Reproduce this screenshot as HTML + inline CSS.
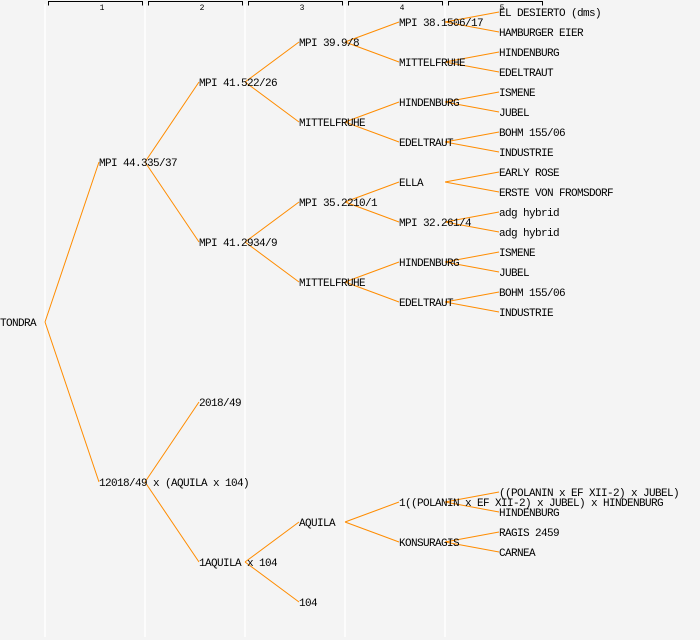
<!DOCTYPE html>
<html><head><style>body{margin:0;background:#f4f4f4}svg{display:block}text{font-family:"Liberation Mono",monospace;font-size:11px;letter-spacing:-0.6px;fill:#000}</style></head><body>
<svg width="700" height="640" xmlns="http://www.w3.org/2000/svg">
<rect width="700" height="640" fill="#f4f4f4"/>
<g stroke="#fff" stroke-width="1.5">
<line x1="45" y1="4" x2="45" y2="637"/><line x1="145" y1="4" x2="145" y2="637"/><line x1="245" y1="4" x2="245" y2="637"/><line x1="345" y1="4" x2="345" y2="637"/><line x1="445" y1="4" x2="445" y2="637"/>
</g>
<g stroke="#000" fill="none" stroke-width="1">
<path d="M48.5 5.5V1.5H142.5V5.5"/><path d="M148.5 5.5V1.5H242.5V5.5"/><path d="M248.5 5.5V1.5H342.5V5.5"/><path d="M348.5 5.5V1.5H442.5V5.5"/><path d="M448.5 5.5V1.5H542.5V5.5"/>
</g>
<g text-anchor="middle"><text x="102" y="10" style="font-size:8px;letter-spacing:0">1</text><text x="202" y="10" style="font-size:8px;letter-spacing:0">2</text><text x="302" y="10" style="font-size:8px;letter-spacing:0">3</text><text x="402" y="10" style="font-size:8px;letter-spacing:0">4</text><text x="502" y="10" style="font-size:8px;letter-spacing:0">5</text></g>
<g stroke="#ff8c00" stroke-width="1" fill="none">
<path d="M45 322L99 162M45 322L99 482"/>
<path d="M145 162L199 82M145 162L199 242M145 482L199 402M145 482L199 562"/>
<path d="M245 82L299 42M245 82L299 122M245 242L299 202M245 242L299 282M245 562L299 522M245 562L299 602"/>
<path d="M345 42L399 22M345 42L399 62M345 122L399 102M345 122L399 142M345 202L399 182M345 202L399 222M345 282L399 262M345 282L399 302M345 522L399 502M345 522L399 542"/>
<path d="M445 22L499 12M445 22L499 32M445 62L499 52M445 62L499 72M445 102L499 92M445 102L499 112M445 142L499 132M445 142L499 152M445 182L499 172M445 182L499 192M445 222L499 212M445 222L499 232M445 262L499 252M445 262L499 272M445 302L499 292M445 302L499 312M445 502L499 492M445 502L499 512M445 542L499 532M445 542L499 552"/>
</g>
<g>
<text x="0" y="326">TONDRA</text>
<text x="99" y="166">MPI 44.335/37</text><text x="99" y="486">12018/49 x (AQUILA x 104)</text>
<text x="199" y="86">MPI 41.522/26</text><text x="199" y="246">MPI 41.2934/9</text><text x="199" y="406">2018/49</text><text x="199" y="566">1AQUILA x 104</text>
<text x="299" y="46">MPI 39.9/8</text><text x="299" y="126">MITTELFRUHE</text><text x="299" y="206">MPI 35.2210/1</text><text x="299" y="286">MITTELFRUHE</text><text x="299" y="526">AQUILA</text><text x="299" y="606">104</text>
<text x="399" y="26">MPI 38.1506/17</text><text x="399" y="66">MITTELFRUHE</text><text x="399" y="106">HINDENBURG</text><text x="399" y="146">EDELTRAUT</text><text x="399" y="186">ELLA</text><text x="399" y="226">MPI 32.261/4</text><text x="399" y="266">HINDENBURG</text><text x="399" y="306">EDELTRAUT</text><text x="399" y="506">1((POLANIN x EF XII-2) x JUBEL) x HINDENBURG</text><text x="399" y="546">KONSURAGIS</text>
<text x="499" y="16">EL DESIERTO (dms)</text><text x="499" y="36">HAMBURGER EIER</text><text x="499" y="56">HINDENBURG</text><text x="499" y="76">EDELTRAUT</text><text x="499" y="96">ISMENE</text><text x="499" y="116">JUBEL</text><text x="499" y="136">BOHM 155/06</text><text x="499" y="156">INDUSTRIE</text><text x="499" y="176">EARLY ROSE</text><text x="499" y="196">ERSTE VON FROMSDORF</text><text x="499" y="216">adg hybrid</text><text x="499" y="236">adg hybrid</text><text x="499" y="256">ISMENE</text><text x="499" y="276">JUBEL</text><text x="499" y="296">BOHM 155/06</text><text x="499" y="316">INDUSTRIE</text>
<text x="499" y="496">((POLANIN x EF XII-2) x JUBEL)</text><text x="499" y="516">HINDENBURG</text><text x="499" y="536">RAGIS 2459</text><text x="499" y="556">CARNEA</text>
</g>
</svg>
</body></html>
